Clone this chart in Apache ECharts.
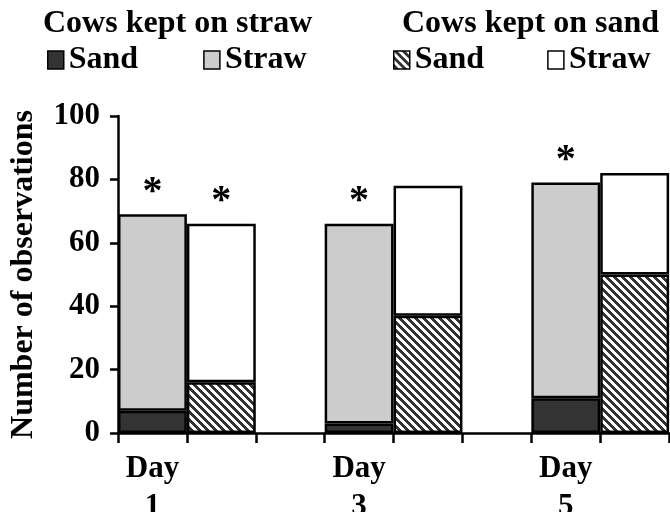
<!DOCTYPE html>
<html><head><meta charset="utf-8">
<script src="https://cdn.jsdelivr.net/npm/echarts@6/dist/echarts.min.js"></script>
<style>html,body{margin:0;padding:0;background:#fff}#c{width:670px;height:512px}</style>
</head><body><div id="c"></div>
<script>
// ---- data ----
const days = ['1', '3', '5'];
const strawCowsSand = [7, 3, 11];
const strawCowsStraw = [62, 63, 68];
const sandCowsSand = [16, 37, 50];
const sandCowsStraw = [50, 41, 32];
const strawCowsStar = [true, true, true];
const sandCowsStar = [true, false, false];
const yMin = 0, yMax = 100, yStep = 20;
const groupTitles = ['Cows kept on straw', 'Cows kept on sand'];
const legendNames = { scSand: 'Sand', scStraw: 'Straw', dcSand: 'Sand', dcStraw: 'Straw' };

// ---- style ----
const FONT = '"Liberation Serif","Times New Roman",serif';
const DARK = '#333333', GREY = '#cccccc';

function hatch() {
  const n = 8, cv = document.createElement('canvas');
  cv.width = n; cv.height = n;
  const ctx = cv.getContext('2d');
  ctx.fillStyle = '#fff'; ctx.fillRect(0, 0, n, n);
  ctx.fillStyle = '#333';
  for (let x = 0; x < n; x++) for (let y = 0; y < n; y++) {
    if ((((x - y) % n) + n) % n < 4) ctx.fillRect(x, y, 1, 1);
  }
  return { image: cv, repeat: 'repeat' };
}
const HATCH = hatch();

// slots: per day -> [straw cows, sand cows, empty]
const slotLabels = [];
days.forEach(d => { slotLabels.push('Day\n' + d, '', ''); });
function slot(arr, pos, stars) {
  const out = [];
  arr.forEach((v, i) => {
    for (let k = 0; k < 3; k++) {
      if (k === pos) {
        out.push(stars && stars[i] ? { value: v, label: { show: true } } : v);
      } else out.push('-');
    }
  });
  return out;
}

const starLabel = {
  show: false, position: 'top', distance: 2, formatter: '*',
  fontFamily: FONT, fontWeight: 'bold', fontSize: 40, lineHeight: 40, color: '#000'
};
const border = { borderColor: '#000', borderWidth: 2.5 };

const chart = echarts.init(document.getElementById('c'), null, { renderer: 'canvas' });
chart.setOption({
  animation: false,
  backgroundColor: '#fff',
  title: [
    { text: groupTitles[0], left: 43, top: 8, padding: 0,
      textStyle: { fontFamily: FONT, fontWeight: 'bold', fontSize: 32, color: '#000', lineHeight: 32 } },
    { text: groupTitles[1], left: 402, top: 8, padding: 0,
      textStyle: { fontFamily: FONT, fontWeight: 'bold', fontSize: 32, color: '#000', lineHeight: 32 } }
  ],
  legend: [
    { data: ['scSand', 'scStraw'], left: 47, top: 44, padding: 0, itemGap: 65,
      itemWidth: 16, itemHeight: 18, icon: 'rect',
      formatter: n => legendNames[n],
      itemStyle: { borderColor: '#000', borderWidth: 1.5 },
      textStyle: { fontFamily: FONT, fontWeight: 'bold', fontSize: 32, color: '#000', lineHeight: 32 } },
    { data: ['dcSand', 'dcStraw'], left: 393, top: 44, padding: 0, itemGap: 63,
      itemWidth: 16, itemHeight: 18, icon: 'rect',
      formatter: n => legendNames[n],
      itemStyle: { borderColor: '#000', borderWidth: 1.5 },
      textStyle: { fontFamily: FONT, fontWeight: 'bold', fontSize: 32, color: '#000', lineHeight: 32 } }
  ],
  grid: { left: 118, top: 116, width: 620, height: 317, containLabel: false, outerBoundsMode: 'none' },
  xAxis: {
    type: 'category', data: slotLabels, boundaryGap: true,
    axisLine: { show: true, lineStyle: { color: '#000', width: 2.5 } },
    axisTick: { show: true, interval: 0, length: 10, lineStyle: { color: '#000', width: 2.5 } },
    axisLabel: {
      interval: 0, margin: 17, color: '#000', fontFamily: FONT, fontWeight: 'bold',
      fontSize: 31, lineHeight: 38
    }
  },
  yAxis: {
    type: 'value', min: yMin, max: yMax, interval: yStep,
    name: 'Number of observations', nameLocation: 'middle', nameGap: 78,
    nameTextStyle: { fontFamily: FONT, fontWeight: 'bold', fontSize: 32, color: '#000' },
    axisLine: { show: true, lineStyle: { color: '#000', width: 2.5 } },
    axisTick: { show: true, length: 8, lineStyle: { color: '#000', width: 2.5 } },
    splitLine: { show: false },
    axisLabel: { margin: 18, color: '#000', fontFamily: FONT, fontWeight: 'bold', fontSize: 31 }
  },
  series: [
    { name: 'scSand', type: 'bar', stack: 's', barCategoryGap: 0, barWidth: '100%',
      data: slot(strawCowsSand, 0), itemStyle: Object.assign({ color: DARK }, border) },
    { name: 'scStraw', type: 'bar', stack: 's', barCategoryGap: 0, barWidth: '100%',
      data: slot(strawCowsStraw, 0, strawCowsStar), label: starLabel,
      itemStyle: Object.assign({ color: GREY }, border) },
    { name: 'dcSand', type: 'bar', stack: 's', barCategoryGap: 0, barWidth: '100%',
      data: slot(sandCowsSand, 1), itemStyle: Object.assign({ color: HATCH }, border) },
    { name: 'dcStraw', type: 'bar', stack: 's', barCategoryGap: 0, barWidth: '100%',
      data: slot(sandCowsStraw, 1, sandCowsStar), label: starLabel,
      itemStyle: Object.assign({ color: '#fff' }, border) }
  ]
});
</script></body></html>
